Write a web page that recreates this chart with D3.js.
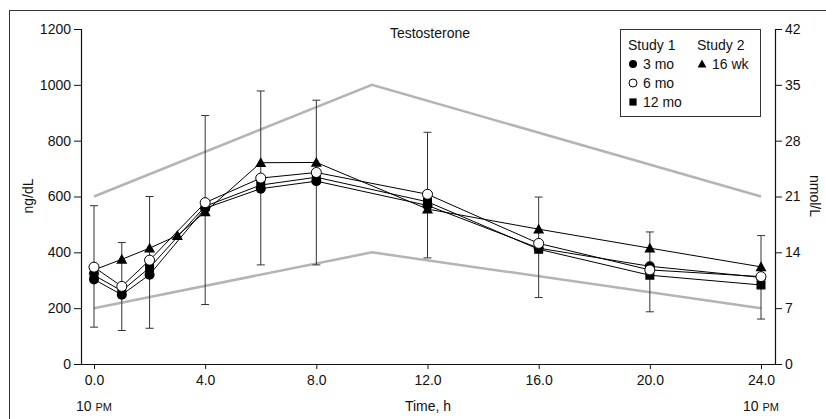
<!DOCTYPE html>
<html>
<head>
<meta charset="utf-8">
<script src="https://cdn.jsdelivr.net/npm/d3@7"></script>
<style>
body { margin: 0; background: #fff; }
text { font-family: "Liberation Sans", Arial, sans-serif; fill: #111; }
</style>
</head>
<body>
<div id="chart-area"></div>
<script>
// hours after 10 PM
var times = [0, 1, 2, 4, 6, 8, 12, 16, 20, 24];
var mo3  = [303, 248, 320, 558, 628, 655, 568, 415, 350, 310];
var mo6  = [347, 278, 372, 578, 666, 686, 608, 432, 337, 313];
var mo12 = [318, 262, 345, 565, 641, 669, 581, 411, 318, 283];
var wk16Times = [0, 1, 2, 3, 4, 6, 8, 12, 16, 20, 24];
var wk16 = [337, 375, 415, 460, 545, 721, 722, 555, 483, 415, 348];
var errLow  = [132, 120, 128, 213, 355, 355, 380, 238, 187, 161];
var errHigh = [567, 435, 600, 890, 978, 945, 830, 598, 473, 460];
// normal range (gray lines)
var refTimes = [0, 10, 24];
var refHigh = [600, 1000, 600];
var refLow = [200, 400, 200];
var xTicks = [0, 4, 8, 12, 16, 20, 24];
var yTicks = [0, 200, 400, 600, 800, 1000, 1200];
var nmolTicks = [0, 7, 14, 21, 28, 35, 42];

var svg = d3.select("#chart-area")
    .append("svg")
    .attr("width", 826)
    .attr("height", 419);

// outer frame
svg.append("rect")
    .attr("x", 9.5).attr("y", 10.5)
    .attr("width", 900).attr("height", 500)
    .attr("fill", "none").attr("stroke", "#333").attr("stroke-width", 1);

var x = d3.scaleLinear().domain([0, 24]).range([94, 761]);
var y = d3.scaleLinear().domain([0, 1200]).range([364, 29]);
var y2 = d3.scaleLinear().domain([0, 42]).range([364, 29]);

var left = 81, right = 775;

// axes
var yAxis = d3.axisLeft(y).tickValues(yTicks).tickSize(7).tickPadding(3)
    .tickFormat(d3.format("d"));
var gy = svg.append("g").attr("transform", "translate(" + left + ",0)").call(yAxis);
var y2Axis = d3.axisRight(y2).tickValues(nmolTicks).tickSize(7).tickPadding(3)
    .tickFormat(d3.format("d"));
var gy2 = svg.append("g").attr("transform", "translate(" + right + ",0)").call(y2Axis);
var xAxis = d3.axisBottom(x).tickValues(xTicks).tickSize(5).tickPadding(6)
    .tickFormat(d3.format(".1f"));
var gx = svg.append("g").attr("transform", "translate(0,364)").call(xAxis);
gx.select(".domain").attr("d", "M" + left + ",0.5H" + right);

[gx, gy, gy2].forEach(function(g) {
    g.selectAll("text").style("font-size", "14px").attr("fill", "#111");
    g.selectAll("line").attr("stroke", "#111");
    g.select(".domain").attr("stroke", "#111").attr("stroke-width", 1.2);
});

// reference lines
var line = d3.line()
    .x(function(d) { return x(d[0]); })
    .y(function(d) { return y(d[1]); });

[refHigh, refLow].forEach(function(r) {
    svg.append("path")
        .datum(refTimes.map(function(t, i) { return [t, r[i]]; }))
        .attr("d", line)
        .attr("fill", "none")
        .attr("stroke", "#b4b4b4")
        .attr("stroke-width", 2.5);
});

// error bars
var eb = svg.append("g").attr("stroke", "#333").attr("stroke-width", 1);
times.forEach(function(t, i) {
    eb.append("line").attr("x1", x(t)).attr("x2", x(t))
        .attr("y1", y(errLow[i])).attr("y2", y(errHigh[i]));
    [errLow[i], errHigh[i]].forEach(function(v) {
        eb.append("line").attr("x1", x(t) - 4).attr("x2", x(t) + 4)
            .attr("y1", y(v)).attr("y2", y(v));
    });
});

var series = [
    { t: wk16Times, v: wk16, shape: "triangle" },
    { t: times, v: mo3, shape: "dot" },
    { t: times, v: mo12, shape: "square" },
    { t: times, v: mo6, shape: "open" }
];

series.forEach(function(s) {
    svg.append("path")
        .datum(s.t.map(function(t, i) { return [t, s.v[i]]; }))
        .attr("d", line)
        .attr("fill", "none")
        .attr("stroke", "#000")
        .attr("stroke-width", 1);
});

function marker(g, shape, cx, cy, scale) {
    scale = scale || 1;
    if (shape === "dot") {
        g.append("circle").attr("cx", cx).attr("cy", cy).attr("r", 5 * scale).attr("fill", "#000");
    } else if (shape === "open") {
        g.append("circle").attr("cx", cx).attr("cy", cy).attr("r", 5 * scale)
            .attr("fill", "#fff").attr("stroke", "#000").attr("stroke-width", 1);
    } else if (shape === "square") {
        var s = 9 * scale;
        g.append("rect").attr("x", cx - s / 2).attr("y", cy - s / 2)
            .attr("width", s).attr("height", s).attr("fill", "#000");
    } else {
        var h = 5.5 * scale;
        g.append("path")
            .attr("d", "M" + cx + "," + (cy - h) + "L" + (cx + h) + "," + (cy + h * 0.8) +
                "L" + (cx - h) + "," + (cy + h * 0.8) + "Z")
            .attr("fill", "#000");
    }
}

var marks = svg.append("g");
series.forEach(function(s) {
    s.t.forEach(function(t, i) {
        marker(marks, s.shape, x(t), y(s.v[i]));
    });
});

// title
svg.append("text").attr("x", 430).attr("y", 38).attr("text-anchor", "middle")
    .style("font-size", "14px").text("Testosterone");

// axis titles
svg.append("text")
    .attr("transform", "translate(33,196) rotate(-90)")
    .attr("text-anchor", "middle").style("font-size", "14px").text("ng/dL");
svg.append("text")
    .attr("transform", "translate(810,196) rotate(90)")
    .attr("text-anchor", "middle").style("font-size", "14px").text("nmol/L");
svg.append("text").attr("x", 428).attr("y", 411).attr("text-anchor", "middle")
    .style("font-size", "14px").text("Time, h");

[0, 24].forEach(function(t) {
    var tx = svg.append("text").attr("x", x(t)).attr("y", 411)
        .attr("text-anchor", "middle").style("font-size", "14px");
    tx.append("tspan").text("10 ");
    tx.append("tspan").style("font-size", "11px").text("PM");
});

// legend
var lg = svg.append("g");
lg.append("rect").attr("x", 620.5).attr("y", 29.5).attr("width", 140).attr("height", 87)
    .attr("fill", "#fff").attr("stroke", "#333").attr("stroke-width", 1);
var legendItems = [
    { col: 0, row: 1, shape: "dot", label: "3 mo" },
    { col: 0, row: 2, shape: "open", label: "6 mo" },
    { col: 0, row: 3, shape: "square", label: "12 mo" },
    { col: 1, row: 1, shape: "triangle", label: "16 wk" }
];
lg.append("text").attr("x", 628).attr("y", 50).style("font-size", "14px").text("Study 1");
lg.append("text").attr("x", 697).attr("y", 50).style("font-size", "14px").text("Study 2");
legendItems.forEach(function(d) {
    var cy = 45 + d.row * 19;
    var cx = d.col === 0 ? 633 : 702;
    marker(lg, d.shape, cx, cy, 0.8);
    lg.append("text").attr("x", cx + 10).attr("y", cy + 5)
        .style("font-size", "14px").text(d.label);
});
</script>
</body>
</html>
